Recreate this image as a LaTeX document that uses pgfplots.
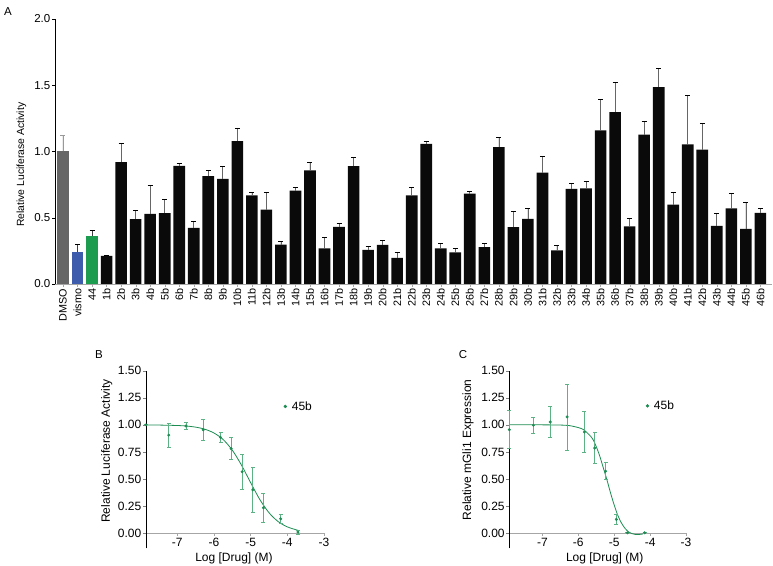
\documentclass[border=0pt]{standalone}
\usepackage{pgfplots}
\pgfplotsset{compat=1.18}
\usepackage{fontspec}
\setmainfont{Liberation Sans}
\definecolor{dmso}{RGB}{102,102,102}
\definecolor{vismo}{RGB}{62,92,172}
\definecolor{cpd}{RGB}{28,156,78}
\definecolor{barblk}{RGB}{10,10,10}
\definecolor{gB}{RGB}{28,140,82}
\definecolor{gE}{RGB}{92,178,132}
\begin{document}
\begin{tikzpicture}
\useasboundingbox (0pt,0pt) rectangle (773pt,565pt);
\node[font=\fontsize{11.5}{13}\selectfont] at (8pt,553pt) {A};
\node[font=\fontsize{11.5}{13}\selectfont] at (99pt,210pt) {B};
\node[font=\fontsize{11.5}{13}\selectfont] at (463pt,210pt) {C};
% ---------------- Panel A ----------------
\begin{axis}[
  at={(55pt,281pt)}, anchor=south west, scale only axis,
  width=717pt, height=265pt,
  xmin=-0.55, xmax=48.8, ymin=0, ymax=2,
  axis y line=left, axis x line=bottom,
  x axis line style={-, draw=gray!70},
  y axis line style={-, draw=black, line width=0.6pt},
  tick align=outside,
  major tick length=3pt,
  xtick={0,...,48},
  xticklabels={DMSO,vismo,44,1b,2b,3b,4b,5b,6b,7b,8b,9b,10b,11b,12b,13b,14b,15b,16b,17b,18b,19b,20b,21b,22b,23b,24b,25b,26b,27b,28b,29b,30b,31b,32b,33b,34b,35b,36b,37b,38b,39b,40b,41b,42b,43b,44b,45b,46b},
  x tick label style={rotate=90, anchor=east, font=\fontsize{10.8}{12}\selectfont, inner sep=1.5pt},
  x tick style={draw=gray!70},
  ytick={0,0.5,1,1.5,2},
  yticklabels={0.0,0.5,1.0,1.5,2.0},
  y tick label style={font=\fontsize{11.5}{13}\selectfont, inner sep=1.5pt},
  y tick style={draw=black},
  ylabel={Relative Luciferase Activity},
  every axis y label/.style={at={(axis description cs:-0.0467,0.45)}, rotate=90, anchor=center, font=\fontsize{10.4}{12}\selectfont},
  ybar, bar width=0.8, bar shift=0pt,
]
\addplot[fill=dmso, draw=none, error bars/.cd, y dir=plus, y explicit,
  error bar style={draw=gray!80, line width=0.7pt},
  error mark options={rotate=90, mark size=2.5pt, draw=gray!80, line width=0.7pt}]
  coordinates {(0,1.0) +- (0,0.12)};
\addplot[fill=vismo, draw=none, error bars/.cd, y dir=plus, y explicit,
  error bar style={draw=black!75, line width=0.7pt},
  error mark options={rotate=90, mark size=2.5pt, draw=black, line width=0.7pt}]
  coordinates {(1,0.243) +- (0,0.057)};
\addplot[fill=cpd, draw=none, error bars/.cd, y dir=plus, y explicit,
  error bar style={draw=black!75, line width=0.7pt},
  error mark options={rotate=90, mark size=2.5pt, draw=black, line width=0.7pt}]
  coordinates {(2,0.363) +- (0,0.043)};
\addplot[fill=barblk, draw=none, error bars/.cd, y dir=plus, y explicit,
  error bar style={draw=black!60, line width=0.7pt},
  error mark options={rotate=90, mark size=2.5pt, draw=black, line width=0.7pt}]
  coordinates {
  (3,0.213) +- (0,0.003)
  (4,0.92) +- (0,0.143)
  (5,0.489) +- (0,0.067)
  (6,0.529) +- (0,0.215)
  (7,0.534) +- (0,0.103)
  (8,0.892) +- (0,0.015)
  (9,0.424) +- (0,0.05)
  (10,0.815) +- (0,0.045)
  (11,0.794) +- (0,0.093)
  (12,1.078) +- (0,0.10)
  (13,0.669) +- (0,0.02)
  (14,0.561) +- (0,0.128)
  (15,0.298) +- (0,0.025)
  (16,0.704) +- (0,0.025)
  (17,0.857) +- (0,0.058)
  (18,0.268) +- (0,0.083)
  (19,0.431) +- (0,0.025)
  (20,0.89) +- (0,0.065)
  (21,0.258) +- (0,0.025)
  (22,0.296) +- (0,0.035)
  (23,0.198) +- (0,0.04)
  (24,0.669) +- (0,0.063)
  (25,1.058) +- (0,0.022)
  (26,0.268) +- (0,0.038)
  (27,0.238) +- (0,0.03)
  (28,0.682) +- (0,0.015)
  (29,0.278) +- (0,0.028)
  (30,1.033) +- (0,0.07)
  (31,0.429) +- (0,0.12)
  (32,0.491) +- (0,0.078)
  (33,0.84) +- (0,0.122)
  (34,0.253) +- (0,0.038)
  (35,0.717) +- (0,0.042)
  (36,0.722) +- (0,0.05)
  (37,1.16) +- (0,0.236)
  (38,1.298) +- (0,0.221)
  (39,0.434) +- (0,0.06)
  (40,1.128) +- (0,0.102)
  (41,1.486) +- (0,0.138)
  (42,0.599) +- (0,0.095)
  (43,1.053) +- (0,0.373)
  (44,1.015) +- (0,0.198)
  (45,0.439) +- (0,0.092)
  (46,0.571) +- (0,0.113)
  (47,0.416) +- (0,0.203)
  (48,0.536) +- (0,0.033)
  };
\end{axis}
% ---------------- Panel B ----------------
\begin{axis}[
  at={(146pt,16.7pt)}, anchor=south west, scale only axis,
  width=178pt, height=177.6pt,
  xmin=-7.85, xmax=-3, ymin=-0.14, ymax=1.5,
  axis y line=left, axis x line=middle,
  x axis line style={-, draw=gray!70},
  y axis line style={-, draw=black, line width=0.6pt},
  xtick align=outside, ytick align=outside,
  major tick length=3pt,
  xtick={-7,-6,-5,-4,-3}, xticklabels={-7,-6,-5,-4,-3},
  ytick={0,0.25,0.5,0.75,1,1.25,1.5},
  yticklabels={0.00,0.25,0.50,0.75,1.00,1.25,1.50},
  tick label style={font=\fontsize{12}{14}\selectfont, inner sep=1.5pt},
  x tick style={draw=gray!70},
  xlabel={Log [Drug] (M)}, ylabel={Relative Luciferase Activity},
  every axis x label/.style={at={(axis description cs:0.494,-0.059)}, anchor=center, font=\fontsize{12}{14}\selectfont},
  every axis y label/.style={at={(axis description cs:-0.221,0.548)}, rotate=90, anchor=center, font=\fontsize{12}{14}\selectfont},
  legend style={at={(axis cs:-4.1,1.17)}, anchor=west, draw=none, fill=none, font=\fontsize{12}{14}\selectfont, inner sep=0pt},
  legend cell align=left,
  clip=false,
]
\addplot[forget plot, gB, line width=0.8pt, smooth, no marks] coordinates {
 (-7.85,0.999) (-7.5,0.998) (-7,0.994) (-6.75,0.989) (-6.5,0.979) (-6.25,0.960)
 (-6,0.925) (-5.75,0.865) (-5.5,0.767) (-5.25,0.629) (-5,0.467) (-4.75,0.311)
 (-4.5,0.189) (-4.25,0.107) (-4,0.058) (-3.71,0.026)};
\addplot[forget plot, only marks, mark=*, mark size=1.3pt, gB,
  error bars/.cd, y dir=both, y explicit,
  error bar style={draw=gE, line width=0.7pt},
  error mark options={rotate=90, mark size=2pt, draw=gE, line width=0.7pt}]
  coordinates {
  (-7.85,1.0) +- (0,0)
  (-7.23,0.905) +- (0,0.113)
  (-6.76,0.99) +- (0,0.03)
  (-6.29,0.955) +- (0,0.095)
  (-5.82,0.884) +- (0,0.05)
  (-5.53,0.78) +- (0,0.10)
  (-5.23,0.567) +- (0,0.165)
  (-4.94,0.40) +- (0,0.21)
  (-4.65,0.234) +- (0,0.135)
  (-4.18,0.132) +- (0,0.045)
  (-3.71,0.01) +- (0,0.018)
  };
\addlegendimage{only marks, mark=*, mark size=1.5pt, gB}
\addlegendentry{\hspace{3pt}45b}
\end{axis}
% ---------------- Panel C ----------------
\begin{axis}[
  at={(509.3pt,16.7pt)}, anchor=south west, scale only axis,
  width=176.7pt, height=177.6pt,
  xmin=-7.92, xmax=-3, ymin=-0.14, ymax=1.5,
  axis y line=left, axis x line=middle,
  x axis line style={-, draw=gray!70},
  y axis line style={-, draw=black, line width=0.6pt},
  xtick align=outside, ytick align=outside,
  major tick length=3pt,
  xtick={-7,-6,-5,-4,-3}, xticklabels={-7,-6,-5,-4,-3},
  ytick={0,0.25,0.5,0.75,1,1.25,1.5},
  yticklabels={0.00,0.25,0.50,0.75,1.00,1.25,1.50},
  tick label style={font=\fontsize{12}{14}\selectfont, inner sep=1.5pt},
  x tick style={draw=gray!70},
  xlabel={Log [Drug] (M)}, ylabel={Relative mGli1 Expression},
  every axis x label/.style={at={(axis description cs:0.54,-0.059)}, anchor=center, font=\fontsize{12}{14}\selectfont},
  every axis y label/.style={at={(axis description cs:-0.233,0.554)}, rotate=90, anchor=center, font=\fontsize{12}{14}\selectfont},
  legend style={at={(axis cs:-4.12,1.175)}, anchor=west, draw=none, fill=none, font=\fontsize{12}{14}\selectfont, inner sep=0pt},
  legend cell align=left,
  clip=false,
]
\addplot[forget plot, gB, line width=0.8pt, smooth, no marks] coordinates {
 (-7.92,1.0) (-7,1.0) (-6.5,0.998) (-6.25,0.993) (-6.0,0.975) (-5.85,0.955)
 (-5.7,0.91) (-5.6,0.87) (-5.5,0.80) (-5.4,0.71) (-5.3,0.60) (-5.2,0.49)
 (-5.1,0.37) (-5.0,0.26) (-4.9,0.165) (-4.8,0.095) (-4.7,0.045) (-4.6,0.012)
 (-4.5,-0.005) (-4.4,-0.013) (-4.3,-0.012) (-4.2,-0.008)};
\addplot[forget plot, only marks, mark=*, mark size=1.3pt, gB,
  error bars/.cd, y dir=both, y explicit,
  error bar style={draw=gE, line width=0.7pt},
  error mark options={rotate=90, mark size=2pt, draw=gE, line width=0.7pt}]
  coordinates {
  (-7.92,0.955) +- (0,0.175)
  (-7.25,0.996) +- (0,0.077)
  (-6.78,1.027) +- (0,0.14)
  (-6.31,1.073) +- (0,0.305)
  (-5.83,0.934) +- (0,0.19)
  (-5.54,0.786) +- (0,0.145)
  (-5.24,0.572) +- (0,0.078)
  (-4.94,0.127) +- (0,0.05)
  (-4.63,0.003) +- (0,0)
  (-4.15,0.003) +- (0,0)
  };
\addlegendimage{only marks, mark=*, mark size=1.5pt, gB}
\addlegendentry{\hspace{3pt}45b}
\end{axis}
\end{tikzpicture}
\end{document}
